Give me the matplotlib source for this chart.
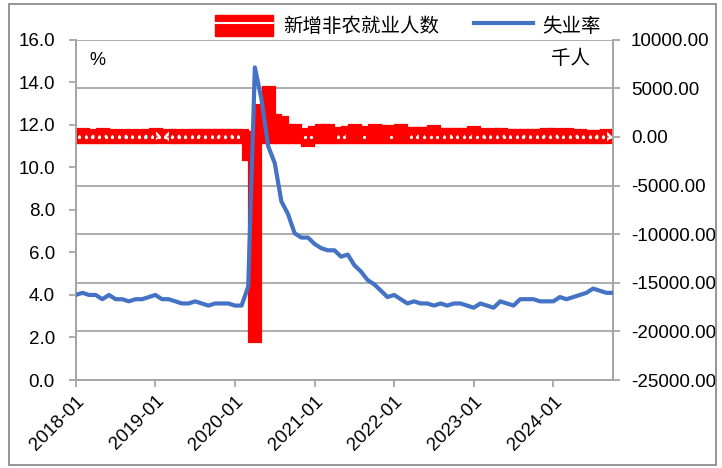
import matplotlib
matplotlib.use("Agg")
import matplotlib.pyplot as plt
import numpy as np
from matplotlib.patches import Patch, Rectangle
from matplotlib.lines import Line2D
from matplotlib.legend_handler import HandlerTuple

plt.rcParams['font.family'] = ['Liberation Sans', 'Noto Sans CJK SC']

# monthly data 2018-01 .. 2024-10
months = [f'{y}-{m:02d}' for y in range(2018, 2025) for m in range(1, 13)][:82]
unemp = [4.0, 4.1, 4.0, 4.0, 3.8, 4.0, 3.8, 3.8, 3.7, 3.8, 3.8, 3.9,
         4.0, 3.8, 3.8, 3.7, 3.6, 3.6, 3.7, 3.6, 3.5, 3.6, 3.6, 3.6,
         3.5, 3.5, 4.4, 14.7, 13.2, 11.0, 10.2, 8.4, 7.8, 6.9, 6.7, 6.7,
         6.4, 6.2, 6.1, 6.1, 5.8, 5.9, 5.4, 5.1, 4.7, 4.5, 4.2, 3.9,
         4.0, 3.8, 3.6, 3.7, 3.6, 3.6, 3.5, 3.6, 3.5, 3.6, 3.6, 3.5,
         3.4, 3.6, 3.5, 3.4, 3.7, 3.6, 3.5, 3.8, 3.8, 3.8, 3.7, 3.7,
         3.7, 3.9, 3.8, 3.9, 4.0, 4.1, 4.3, 4.2, 4.1, 4.1]
payrolls = [176, 329, 150, 179, 270, 241, 114, 233, 109, 207, 122, 219,
            265, 13, 182, 232, 88, 173, 172, 209, 217, 186, 219, 184,
            214, 251, -1700, -20470, 2800, 4590, 1730, 1580, 720, 680, 260, -270,
            520, 710, 700, 260, 450, 560, 690, 480, 380, 680, 650, 590,
            370, 710, 400, 370, 380, 380, 570, 350, 350, 320, 290, 260,
            480, 290, 150, 280, 300, 240, 180, 210, 250, 170, 180, 290,
            260, 240, 310, 110, 220, 120, 140, 80, 250, 40]
tick_labels = ['2018-01', '2019-01', '2020-01', '2021-01', '2022-01', '2023-01', '2024-01']

x = np.arange(len(months))
grid_c = '#A6A6A6'

fig = plt.figure(figsize=(7.22, 4.68), dpi=100)
ax = fig.add_axes([0.105, 0.188, 0.744, 0.727])
ax2 = ax.twinx()
ax.set_zorder(2)
ax2.set_zorder(1)
ax.patch.set_visible(False)

# bars on the right axis, thick red outline like the Excel original
ax2.bar(x, payrolls, width=0.15, color='#FF0000', edgecolor='#FF0000',
        linewidth=9.5, joinstyle='miter', zorder=3)
# the little white gaps between adjacent small bars
pv = np.array(payrolls)
small = (np.abs(pv[:-1]) < 650) & (np.abs(pv[1:]) < 650)
gx = x[:-1][small] + 0.5
ax2.plot(gx, np.zeros(len(gx)), 'o', color='white', ms=2.3, mew=0, zorder=4)
ax2.set_ylim(-25000, 10000)
ax2.set_yticks(np.arange(-25000, 10001, 5000))
ax2.set_yticklabels([f'{v:.2f}' for v in np.arange(-25000, 10001, 5000)])
ax2.yaxis.grid(True, color=grid_c, lw=1.3)
ax2.set_axisbelow(True)

# unemployment line on the left axis
ax.plot(x, unemp, color='#4472C4', lw=3, solid_joinstyle='round', zorder=5)
ax.set_ylim(0, 16)
ax.set_yticks(np.arange(0, 16.1, 2))
ax.set_yticklabels([f'{v:.1f}' for v in np.arange(0, 16.1, 2)])
ax.set_xlim(0, 81)
ax.set_xticks(np.arange(0, 73, 12))
ax.set_xticklabels(tick_labels, rotation=45, ha='right', rotation_mode='anchor')

for a in (ax, ax2):
    a.spines['top'].set_visible(False)
    for s in ('left', 'right', 'bottom'):
        a.spines[s].set_color(grid_c)
        a.spines[s].set_linewidth(1.3)
    a.tick_params(colors=grid_c, labelcolor='black', labelsize=13.5, length=5, width=1.3)
ax.tick_params(axis='y', pad=10)
ax2.tick_params(axis='y', pad=8)
ax.tick_params(axis='x', pad=4)

ax.text(0.025, 0.94, '%', transform=ax.transAxes, fontsize=13, va='center')
ax.text(0.885, 0.945, '千人', transform=ax.transAxes, fontsize=14, va='center',
        family=['Noto Sans CJK SC'])

h_bar = (Patch(facecolor='#FF0000', edgecolor='#FF0000'),
         Line2D([], [], color='white', lw=1.5))
h_line = Line2D([], [], color='#4472C4', lw=3)
fig.legend([h_bar, h_line], ['新增非农就业人数', '失业率'],
           handler_map={tuple: HandlerTuple(ndivide=1, pad=0)},
           loc='center', bbox_to_anchor=(0.565, 0.945), ncol=2, frameon=False,
           prop={'family': ['Noto Sans CJK SC'], 'size': 14},
           handlelength=3.0, handleheight=1.3, columnspacing=1.8, handletextpad=0.5)

fig.patches.append(Rectangle((0.012, 0.006), 0.98, 0.985, transform=fig.transFigure,
                             fill=False, edgecolor='#8C8C8C', lw=1.3))

fig.savefig('out.png', dpi=100)
